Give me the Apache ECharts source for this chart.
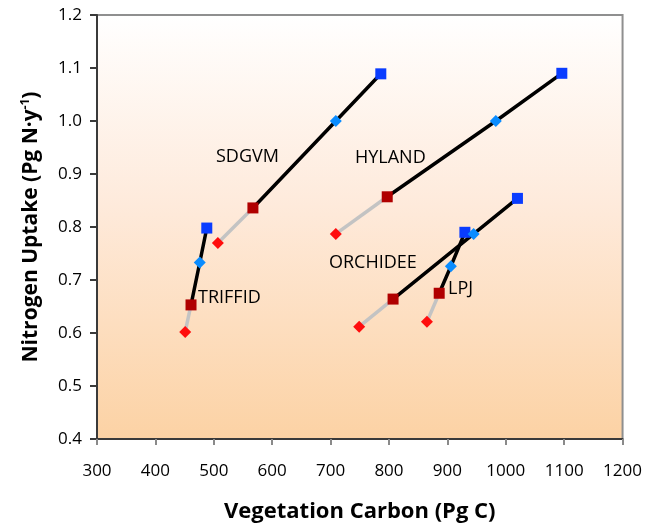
<!DOCTYPE html>
<html>
<head>
<meta charset="utf-8">
<script src="https://cdn.jsdelivr.net/npm/echarts@6/dist/echarts.min.js"></script>
<style>
  html, body { margin: 0; padding: 0; background: #ffffff; }
  #chart { width: 645px; height: 529px; }
</style>
</head>
<body>
<div id="chart"></div>
<script>
// Models, in drawing order
const models = ['SDGVM', 'HYLAND', 'ORCHIDEE', 'LPJ', 'TRIFFID'];

// Vegetation carbon (Pg C) and nitrogen uptake (Pg N/yr) at four successive states
const vegA = [507, 709, 749, 865, 451];      // red diamonds
const nupA = [0.770, 0.787, 0.612, 0.621, 0.602];
const vegB = [567, 797, 807, 886, 461];      // dark red squares
const nupB = [0.836, 0.857, 0.664, 0.675, 0.653];
const vegC = [709, 983, 945, 906, 476];      // light blue diamonds
const nupC = [1.000, 1.000, 0.787, 0.726, 0.733];
const vegD = [786, 1096, 1020, 930, 488];    // blue squares
const nupD = [1.089, 1.090, 0.854, 0.790, 0.798];

// Axis ranges and ticks
const xTicks = [300, 400, 500, 600, 700, 800, 900, 1000, 1100, 1200];
const yTicks = [0.4, 0.5, 0.6, 0.7, 0.8, 0.9, 1.0, 1.1, 1.2];

const FONT = '"Open Sans", "DejaVu Sans", sans-serif';

const series = [];
models.forEach(function (m, i) {
  // grey segment: first state -> second state
  series.push({
    type: 'line', name: m + '-a', symbol: 'none', silent: true, z: 2,
    lineStyle: { color: '#c3c3c3', width: 3.5 },
    data: [[vegA[i], nupA[i]], [vegB[i], nupB[i]]]
  });
  // black path: second -> third -> fourth state
  series.push({
    type: 'line', name: m + '-b', symbol: 'none', silent: true, z: 2,
    lineStyle: { color: '#000000', width: 3.5 },
    data: [[vegB[i], nupB[i]], [vegC[i], nupC[i]], [vegD[i], nupD[i]]]
  });
});

function pts(xs, ys) { return xs.map(function (x, i) { return [x, ys[i]]; }); }

series.push({ type: 'scatter', symbol: 'rect', symbolSize: 11, z: 4,
  itemStyle: { color: '#0a3cff', opacity: 1 }, data: pts(vegD, nupD) });
series.push({ type: 'scatter', symbol: 'diamond', symbolSize: 12, z: 5,
  itemStyle: { color: '#0a8cff', opacity: 1 }, data: pts(vegC, nupC) });
series.push({ type: 'scatter', symbol: 'rect', symbolSize: 11, z: 4,
  itemStyle: { color: '#b00000', opacity: 1 }, data: pts(vegB, nupB) });
series.push({ type: 'scatter', symbol: 'diamond', symbolSize: 12, z: 4,
  itemStyle: { color: '#ff0d0d', opacity: 1 }, data: pts(vegA, nupA) });

// model name labels
const labelStyle = { fill: '#000', fontSize: 18, fontFamily: FONT, verticalAlign: 'middle' };
const labelGraphics = [
  { text: 'SDGVM', x: 216, y: 157 },
  { text: 'HYLAND', x: 355, y: 158 },
  { text: 'ORCHIDEE', x: 329, y: 263 },
  { text: 'TRIFFID', x: 198, y: 298 },
  { text: 'LPJ', x: 448, y: 289 }
].map(function (l) {
  return { type: 'text', x: l.x, y: l.y, z: 10,
    style: Object.assign({ text: l.text }, labelStyle) };
});

const chart = echarts.init(document.getElementById('chart'), null, { renderer: 'canvas' });
chart.setOption({
  animation: false,
  backgroundColor: '#ffffff',
  grid: {
    left: 97, right: 22, top: 15, bottom: 90,
    show: true,
    borderColor: '#8f8f8f', borderWidth: 2,
    backgroundColor: new echarts.graphic.LinearGradient(0, 0, 0, 1, [
      { offset: 0, color: '#ffffff' },
      { offset: 0.45, color: '#feeadb' },
      { offset: 1, color: '#fcd2a4' }
    ])
  },
  xAxis: {
    type: 'value', min: xTicks[0], max: xTicks[xTicks.length - 1], interval: 100,
    name: 'Vegetation Carbon (Pg C)', nameLocation: 'middle', nameGap: 62,
    nameTextStyle: { fontFamily: FONT, fontWeight: 'bold', fontSize: 22, color: '#000' },
    axisLine: { show: true, lineStyle: { color: '#3a3a3a', width: 2 } },
    axisTick: { show: true, length: 6, lineStyle: { color: '#8a8a8a', width: 2 } },
    axisLabel: { fontFamily: FONT, fontSize: 17, color: '#000', margin: 24,
      formatter: function (v) { return String(v); } },
    splitLine: { show: false }
  },
  yAxis: {
    type: 'value', min: yTicks[0], max: yTicks[yTicks.length - 1], interval: 0.1,
    name: '{t|Nitrogen Uptake (Pg N·y}{s|-1}{t|)}', nameLocation: 'middle', nameGap: 55,
    nameRotate: 90,
    nameTextStyle: {
      rich: {
        t: { fontFamily: FONT, fontWeight: 'bold', fontSize: 21, color: '#000' },
        s: { fontFamily: FONT, fontWeight: 'bold', fontSize: 12, color: '#000', verticalAlign: 'top', padding: [0, 0, 10, 0] }
      }
    },
    axisLine: { show: true, lineStyle: { color: '#3a3a3a', width: 2 } },
    axisTick: { show: true, length: 7, lineStyle: { color: '#3a3a3a', width: 2 } },
    axisLabel: { fontFamily: FONT, fontSize: 17, color: '#000', margin: 15,
      formatter: function (v) { return v.toFixed(1); } },
    splitLine: { show: false }
  },
  graphic: labelGraphics,
  series: series
});
</script>
</body>
</html>
